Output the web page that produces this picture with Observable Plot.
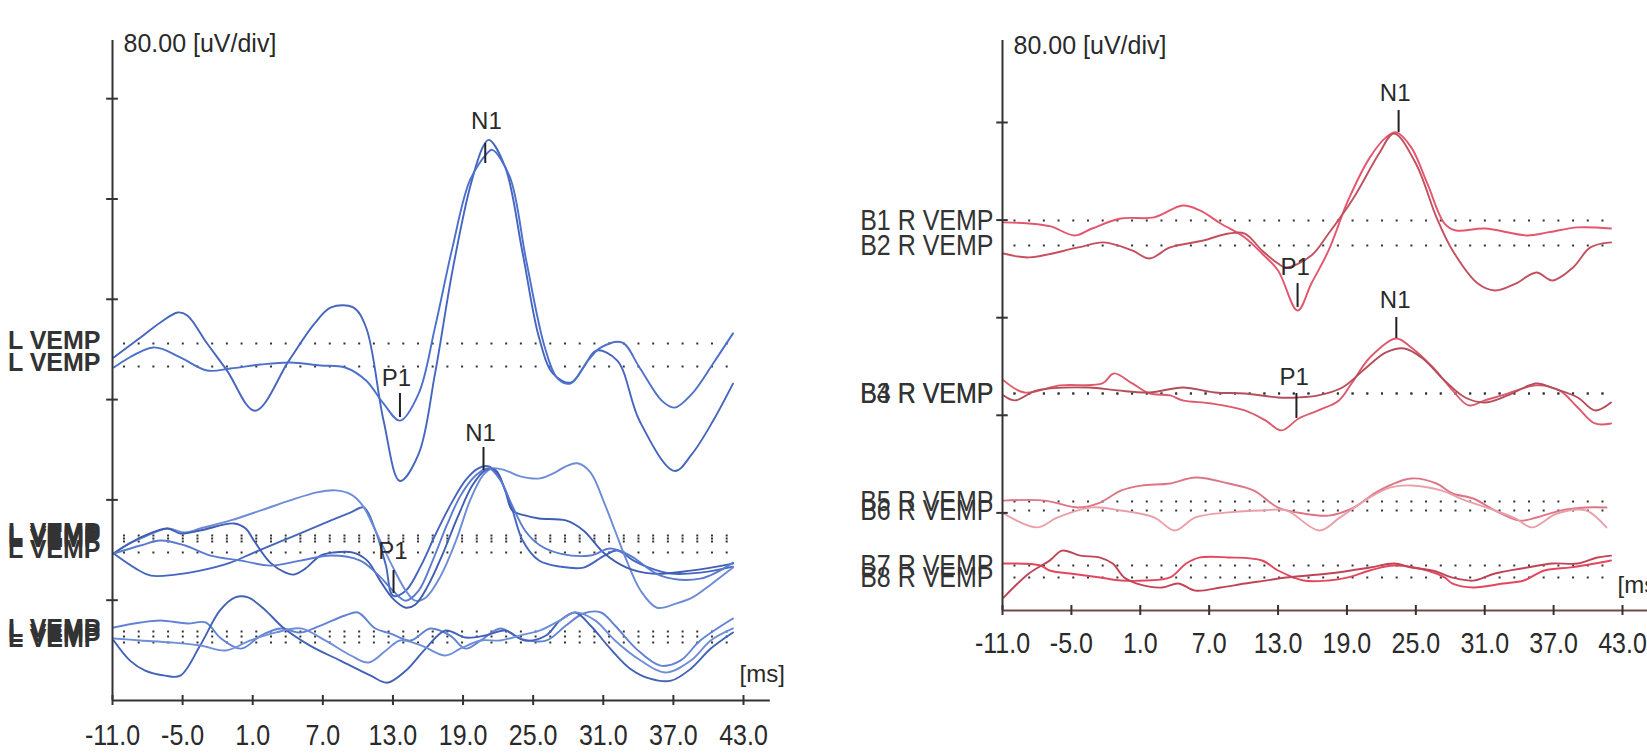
<!DOCTYPE html>
<html><head><meta charset="utf-8">
<script src="https://cdn.jsdelivr.net/npm/d3@7"></script>
<script src="https://cdn.jsdelivr.net/npm/@observablehq/plot@0.6"></script>
<style>
html,body{margin:0;background:#fff;}
#wrap{position:relative;width:1647px;height:753px;overflow:hidden;background:#fff;}
#wrap svg{position:absolute;top:0;max-width:none!important;}
</style></head><body><div id="wrap"></div>
<script>
// ---------- shared axis data ----------
const xTicks = [-11, -5, 1, 7, 13, 19, 25, 31, 37, 43];
const unitText = "80.00 [uV/div]";
const msText = "[ms]";
const yTicksLeft = [80, 160, 240, 320, 400, 480];   // µV, 80 µV/div
const yTicksRight = [80, 160, 240, 320, 400];

// ---------- LEFT panel traces: [ms, µV relative to baseline] ----------
const L1a = [[-10.9,-11.2],[-8.6,4.8],[-6.9,16.8],[-5.4,24.8],[-4.6,22.4],[-2.9,0],[-1.2,-21.6],[1.2,-53.6],[4.1,-13.6],[6.3,16],[7.7,28.8],[9.6,28.8],[10.7,12.8],[12.2,-61.6],[13.6,-109.6],[15.2,-88],[16.6,-24],[18.1,58.4],[19.6,124.8],[20.7,156.8],[21.2,162.4],[22.6,140.8],[24.1,72],[25.5,4.8],[26.7,-24],[28.2,-31.2],[29.3,-19.2],[30.4,-5.6],[32.2,-13.6],[34.1,-61.6],[37.1,-101.6],[38.6,-88],[40.4,-61.6],[42.1,-32]];
const L1b = [[-10.9,-0.8],[-7.5,15.2],[-5.2,7.2],[-2.9,-3.2],[-0.9,-1.6],[1.7,1.6],[4.2,3.2],[6.8,0.8],[8.9,-0.8],[10.7,-11.2],[12.2,-29.6],[13.6,-43.2],[15.2,-21.6],[16.6,31.2],[18.1,95.2],[19.6,148.8],[21.1,170.4],[21.5,172.8],[23.0,151.2],[24.4,84.8],[26.0,15.2],[27.1,-9.6],[28.2,-13.6],[29.7,4.8],[30.8,15.2],[32.6,19.2],[34.1,-0.8],[36.0,-27.2],[37.1,-32.8],[38.6,-21.6],[40.4,2.4],[42.1,26.4]];
const L2a = [[-10.9,-14.4],[-9.0,-26.4],[-7.7,-32],[-5.6,-31.2],[-3.5,-28],[-0.9,-21.6],[1.1,-13.6],[4.2,-1.6],[7.7,12],[9.4,18.4],[10.5,22.4],[11.5,4],[12.4,-24],[13.0,-48],[14.1,-44],[15.4,-24],[16.6,0],[17.9,24],[19.2,44],[20.3,53.6],[21.2,55.2],[22.0,48],[23.1,24],[24.1,-4],[25.5,-20],[27.3,-24.8],[29.3,-25.6],[31.1,-16],[32.2,-12],[33.6,-20],[34.9,-25.6],[36.8,-30.4],[39.3,-29.6],[42.1,-24.8]];
const L2b = [[-10.9,-12],[-9.9,-5.6],[-8.2,1.6],[-6.3,8],[-4.8,4.8],[-3.5,8],[-0.9,14.4],[1.7,22.4],[4.2,30.4],[6.5,36.8],[8.1,38.4],[9.4,35.2],[10.4,26.4],[11.5,6.4],[12.8,-19.2],[14.1,-41.6],[14.9,-49.6],[15.8,-47.2],[17.1,-29.6],[18.4,-1.6],[19.6,30.4],[20.7,50.4],[21.5,56],[22.6,54.4],[23.9,49.6],[25.6,48],[26.9,52.8],[27.8,57.6],[28.8,60],[29.9,52.8],[31.1,28],[32.0,6.4],[33.0,-17.6],[34.2,-41.6],[35.6,-55.2],[37.2,-52],[38.6,-47.2],[40.3,-36],[42.1,-23.2]];
const L2c = [[-10.9,-9.6],[-8.6,3.2],[-6.3,10.4],[-5.2,6.4],[-3.5,8.8],[-0.6,14.4],[0.4,10.4],[1.1,0.8],[2.5,-16.8],[3.8,-24.8],[4.5,-26.4],[5.5,-21.6],[6.8,-11.2],[7.9,-8.8],[9.6,-8.8],[10.8,-15.2],[11.9,-31.2],[13.0,-45.6],[14.1,-52.8],[14.9,-50.4],[16.0,-35.2],[17.2,-11.2],[18.6,20.8],[19.8,44.8],[20.9,56.8],[21.8,56.8],[22.6,40.8],[23.2,24.8],[24.3,20.8],[25.5,18.4],[27.8,16.8],[29.3,8.8],[31.1,-9.6],[33.0,-20.8],[35.2,-25.6],[38.5,-23.2],[42.1,-17.6]];
const L2d = [[-10.9,-0.8],[-8.6,5.6],[-6.9,9.6],[-4.8,5.6],[-2.6,-2.4],[0.0,-6.4],[2.5,-10.4],[5.1,-6.4],[7.7,-2.4],[10.2,-6.4],[11.8,-18.4],[13.0,-30.4],[14.1,-38.4],[15.2,-30.4],[16.4,-6.4],[17.6,21.6],[18.8,45.6],[20.1,61.6],[21.2,67.2],[22.2,57.6],[23.2,37.6],[24.3,17.6],[25.6,5.6],[27.3,-0.8],[29.9,-2.4],[31.6,3.2],[33.3,-2.4],[35.9,-18.4],[39.3,-20.8],[42.1,-8]];
const L3a = [[-10.9,3.2],[-8.6,7.2],[-6.9,8.8],[-4.6,6.4],[-3.0,7.2],[-1.8,-4.8],[0.0,-13.6],[1.7,-3.2],[3.4,2.4],[5.1,-0.8],[6.8,4.8],[8.9,12.8],[10.0,15.2],[11.5,2.4],[12.8,-1.6],[14.5,-7.2],[16.2,2.4],[17.9,-3.2],[19.2,-13.6],[20.5,-7.2],[22.2,2.4],[23.9,-5.6],[26.1,-7.2],[27.8,4.8],[29.3,14.4],[30.8,15.2],[32.0,4.8],[33.8,-13.6],[35.9,-27.2],[37.6,-23.2],[39.3,-7.2],[42.1,10.4]];
const L3b = [[-10.9,-3.2],[-9.5,-19.2],[-8.2,-27.2],[-6.5,-31.2],[-5.2,-31.2],[-3.5,-7.2],[-1.8,20.8],[-0.5,31.2],[0.6,31.2],[2.1,20.8],[3.6,7.2],[5.9,-7.2],[8.5,-19.2],[11.1,-31.2],[12.5,-36.8],[14.1,-27.2],[15.8,-9.6],[17.5,4.8],[19.2,-0.8],[20.9,0.8],[22.6,4.8],[24.3,-3.2],[26.1,0.8],[27.3,12.8],[28.6,19.2],[29.9,8.8],[31.6,-9.6],[33.3,-25.6],[35.0,-33.6],[36.8,-35.2],[38.5,-25.6],[40.2,-9.6],[42.1,3.2]];
const L3c = [[-10.9,3.2],[-8.6,1.6],[-6.0,0],[-3.5,-2.4],[-1.3,-6.4],[0.8,1.6],[3.0,8],[5.1,11.2],[7.2,1.6],[9.4,-10.4],[10.9,-16],[12.4,-6.4],[13.6,1.6],[15.4,-2.4],[17.5,-10.4],[18.8,-4.8],[20.5,1.6],[22.2,1.6],[23.9,5.6],[25.6,9.6],[27.3,17.6],[28.6,24],[30.3,17.6],[32.0,1.6],[34.2,-14.4],[36.3,-24],[38.5,-14.4],[40.2,1.6],[42.1,11.2]];

// ---------- RIGHT panel traces ----------
const B1 = [[-10.9,-1.6],[-8.7,-2.5],[-6.8,-4.9],[-4.7,-12.3],[-3.2,-6.6],[-0.7,1.6],[2.2,2.5],[4.7,12.3],[6.2,8.2],[8.0,-2.5],[10.1,-13.9],[11.6,-27.1],[13.0,-41],[14.7,-73.8],[15.9,-51.7],[17.4,-24.6],[19.1,16.4],[21.0,51.7],[22.4,68.1],[23.3,72.2],[24.6,59.9],[26.0,30.3],[27.5,-2.5],[28.5,-8.2],[31.0,-6.6],[34.7,-12.3],[36.5,-9.8],[39.1,-5.7],[42.0,-6.6]];
const B2 = [[-10.9,-6.6],[-8.7,-9.8],[-4.4,-1.6],[-2.2,2.5],[0.3,-4.1],[1.8,-10.7],[3.6,-1.6],[6.5,4.1],[8.7,9.8],[10.1,9.8],[11.6,-4.1],[13.0,-14.8],[13.7,-18],[15.9,-8.2],[17.4,9.8],[19.6,39.4],[21.8,75.4],[23.1,91.8],[25.0,67.2],[26.8,23],[28.2,-4.1],[30.4,-31.2],[31.9,-36.9],[33.7,-31.2],[35.5,-22.1],[36.9,-28.7],[38.7,-18],[40.2,-1.6],[42.0,2.5]];
const B3 = [[-10.9,10.7],[-9.1,0.8],[-6.0,6.6],[-2.3,8.2],[-1.3,16.4],[0.3,8.2],[1.8,0],[3.6,-1.6],[4.7,-5.7],[7.2,-8.2],[10.1,-13.9],[11.9,-22.1],[13.3,-30.3],[14.8,-20.5],[16.5,-13.9],[18.3,-5.7],[19.4,8.2],[21.0,29.5],[23.3,45.1],[24.6,37.7],[26.5,21.3],[28.2,2.5],[29.6,-9.8],[31.0,-5.7],[32.5,-1.6],[35.5,6.6],[37.5,2.5],[39.1,-11.5],[40.6,-24.6],[42.0,-24.6]];
const B4 = [[-10.9,-1.6],[-9.9,-5.7],[-8.0,2.5],[-3.5,4.9],[-1.0,2.5],[1.8,0.8],[4.7,4.9],[7.5,0.8],[10.1,0],[13.0,-3.3],[14.7,-3.3],[16.5,-1.6],[18.6,4.9],[20.6,20.5],[22.4,33.6],[24.0,36.9],[25.6,28.7],[27.5,10.7],[29.3,-3.3],[31.0,-7.4],[33.0,-1.6],[35.5,8.2],[37.0,4.1],[39.1,-3.3],[40.6,-13.9],[42.0,-7.4]];
const B5 = [[-10.9,0.8],[-7.3,0.8],[-4.4,-4.9],[-2.5,-0.8],[-0.7,9.0],[1.1,13.1],[3.6,14.8],[5.8,19.7],[8.7,14.8],[10.9,9.0],[13.0,-4.9],[15.2,-9.8],[17.4,-11.5],[19.6,-4.9],[21.8,9.0],[24.6,18.9],[26.8,14.8],[28.2,6.6],[30.0,2.5],[31.9,-7.4],[34.0,-15.6],[35.5,-13.1],[37.6,-7.4],[39.8,-4.9],[41.6,-4.9]];
const B6 = [[-10.9,-2.5],[-8.0,-13.9],[-6.2,-5.7],[-3.2,2.5],[-0.7,0],[2.2,-5.7],[4.0,-16.4],[5.8,-5.7],[8.7,-1.6],[11.6,0],[13.7,0],[16.6,-16.4],[18.4,-5.7],[21.0,10.7],[22.8,18.9],[24.6,20.5],[27.2,16.4],[29.3,8.2],[31.9,0],[33.7,-6.6],[35.1,-13.9],[37.3,-2.5],[39.8,0],[41.6,-13.9]];
const B7 = [[-10.9,1.6],[-7.7,0],[-6.9,-4.1],[-5.1,-6.6],[-2.5,-9.8],[-0.7,-12.3],[1.5,-12.3],[3.6,-9.8],[5.0,1.6],[6.2,6.6],[8.7,6.6],[11.6,4.1],[13.0,-4.1],[15.2,-12.3],[17.4,-12.3],[19.1,-9.8],[21.0,-4.1],[23.1,0],[26.0,-4.1],[27.5,-9.8],[28.2,-14.8],[30.0,-18],[32.6,-14.8],[34.4,-12.3],[36.2,-4.1],[38.5,-1.6],[40.6,1.6],[42.0,4.1]];
const B8 = [[-10.9,-16.4],[-8.7,3.3],[-6.9,13.9],[-5.8,22.1],[-4.2,18],[-2.5,16.4],[-1.4,11.5],[-0.4,0],[0.7,-4.9],[2.9,-8.2],[4.3,-4.9],[5.8,-10.7],[8.0,-8.2],[10.1,-4.9],[11.9,-2.5],[13.7,0],[17.4,3.3],[21.0,8.2],[23.1,11.5],[24.6,8.2],[26.5,5.7],[28.2,0],[30.0,-2.5],[31.9,3.3],[34.7,8.2],[36.9,11.5],[39.1,11.5],[40.8,16.4],[42.0,18]];

// trace baselines (µV above the time axis), names and colours
const leftTraces = [
  {id:"L1a", name:"L VEMP", base:284.7, color:"#4565c0", pts:L1a},
  {id:"L1b", name:"L VEMP", base:266.4, color:"#4c70cc", pts:L1b},
  {id:"L2a", name:"L VEMP", base:131.6, color:"#4566bf", pts:L2a},
  {id:"L2b", name:"L VEMP", base:129.2, color:"#6d8bd6", pts:L2b},
  {id:"L2c", name:"L VEMP", base:126.8, color:"#3f5eb3", pts:L2c},
  {id:"L2d", name:"L VEMP", base:118.0, color:"#5a7bd0", pts:L2d},
  {id:"L3a", name:"L VEMP", base:55.0, color:"#6282d4", pts:L3a},
  {id:"L3b", name:"L VEMP", base:51.0, color:"#4262b8", pts:L3b},
  {id:"L3c", name:"L VEMP", base:46.3, color:"#6f8ed8", pts:L3c}
];
const rightTraces = [
  {id:"B1", name:"B1 R VEMP", base:319.7, color:"#e4566e", pts:B1},
  {id:"B2", name:"B2 R VEMP", base:299.2, color:"#c4505f", pts:B2},
  {id:"B3", name:"B3 R VEMP", base:177.9, color:"#dc5a6c", pts:B3},
  {id:"B4", name:"B4 R VEMP", base:177.9, color:"#b34e5a", pts:B4},
  {id:"B5", name:"B5 R VEMP", base:89.3, color:"#dd7585", pts:B5},
  {id:"B6", name:"B6 R VEMP", base:82.0, color:"#e9a0ab", pts:B6},
  {id:"B7", name:"B7 R VEMP", base:36.9, color:"#e2475e", pts:B7},
  {id:"B8", name:"B8 R VEMP", base:27.0, color:"#c04456", pts:B8}
];

// peak markers: label position (t, v) and tick (tt, v1..v2), µV on panel scale
const leftPeaks = [
  {name:"N1", t:21.0, v:461.8, tt:20.9, v1:444.3, v2:428.3},
  {name:"P1", t:13.3, v:256.8, tt:13.6, v1:244.9, v2:225.7},
  {name:"N1", t:20.5, v:213.0, tt:20.75, v1:201.8, v2:183.4},
  {name:"P1", t:13.0, v:118.8, tt:13.05, v1:103.7, v2:85.3}
];
const rightPeaks = [
  {name:"N1", t:23.2, v:423.8, tt:23.5, v1:409.8, v2:391.8},
  {name:"P1", t:14.5, v:281.2, tt:14.7, v1:268.0, v2:248.4},
  {name:"N1", t:23.2, v:254.1, tt:23.3, v1:240.2, v2:223.0},
  {name:"P1", t:14.4, v:191.0, tt:14.6, v1:177.9, v2:157.4}
];

const FONT = "'Liberation Sans', Arial, sans-serif";
const INK = "#2a2a2a";

function panel(o) {
  const rows = o.traces.flatMap(tr => tr.pts.map(([t, a]) => ({id: tr.id, t, v: tr.base + a, color: tr.color})));
  const svg = Plot.plot({
    width: o.width, height: 753,
    marginLeft: o.mL, marginRight: o.mR, marginTop: 40, marginBottom: o.mB,
    x: {domain: [-11, 43], axis: null},
    y: {domain: [0, o.yTop], axis: null},
    color: {type: "identity"},
    style: {fontFamily: FONT, background: "transparent", overflow: "visible"},
    marks: [
      Plot.ruleY(o.traces, {y: "base", x1: o.dot[0], x2: o.dot[1], stroke: "#333", strokeWidth: 2, strokeDasharray: "2 12.7"}),
      Plot.line(rows, {x: "t", y: "v", z: "id", stroke: "color", strokeWidth: 1.9, curve: "catmull-rom"}),
      Plot.ruleX([-11], {y1: 0, y2: o.yTop, stroke: "#333", strokeWidth: 2}),
      Plot.ruleY([0], {x1: -11, x2: 45.3, stroke: o.xAxisColor, strokeWidth: 2}),
      Plot.ruleY(o.yTicks, {x1: -11.5, x2: -10.5, stroke: "#333", strokeWidth: 2}),
      Plot.ruleX(xTicks, {y1: -o.tk, y2: o.tk, stroke: "#333", strokeWidth: 2}),
      Plot.text(xTicks, {x: d => d, y: 0, text: d => d.toFixed(1), dy: o.labDy, fontSize: 25, fill: INK}),
      Plot.text([unitText], {x: o.unit[0], y: o.unit[1], text: d => d, textAnchor: "start", fontSize: 25, fill: INK}),
      Plot.text([msText], {x: o.ms[0], y: o.ms[1], text: d => d, textAnchor: o.msAnchor, fontSize: 24, fill: INK}),
      Plot.text(o.traces, {x: -11, y: "base", text: "name", textAnchor: "end", dx: o.nameDx, dy: o.nameDy, fontSize: 25, fontWeight: o.nameWeight, fill: "#333"}),
      Plot.ruleX(o.peaks, {x: "tt", y1: "v1", y2: "v2", stroke: "#222", strokeWidth: 2}),
      Plot.text(o.peaks, {x: "t", y: "v", text: "name", fontSize: 24, fill: INK})
    ]
  });
  svg.style.left = o.left + "px";
  // the scanned printout uses a taller glyph shape for axis numbers and R-channel names
  svg.querySelectorAll("text").forEach(el => {
    const s = el.textContent;
    if (!(/^-?\d+\.0$/.test(s) || /R VEMP/.test(s))) return;
    const tr = el.getAttribute("transform");
    if (tr) el.setAttribute("transform", tr + " scale(1,1.2)");
    else {
      const x = +el.getAttribute("x") || 0, y = +el.getAttribute("y") || 0;
      el.setAttribute("transform", `translate(${x},${y}) scale(1,1.2) translate(${-x},${-y})`);
    }
  });
  return svg;
}

const wrap = document.getElementById("wrap");
wrap.appendChild(panel({
  left: 0, width: 800, mL: 112, mR: 57, mB: 53, yTop: 526.4,
  traces: leftTraces, peaks: leftPeaks, yTicks: yTicksLeft,
  dot: [-10.06, 41.7], tk: 4, labDy: 35, xAxisColor: "#333",
  unit: [-10.06, 524], ms: [44.6, 20.7], msAnchor: "middle",
  nameDx: -12, nameDy: -3, nameWeight: "bold"
}));
wrap.appendChild(panel({
  left: 800, width: 847, mL: 202, mR: 25, mB: 143, yTop: 467.2,
  traces: rightTraces, peaks: rightPeaks, yTicks: yTicksRight,
  dot: [-10.0, 41.4], tk: 4.1, labDy: 33, xAxisColor: "#6e4d47",
  unit: [-10.04, 463], ms: [42.57, 20.5], msAnchor: "start",
  nameDx: -9, nameDy: 0, nameWeight: "normal"
}));
</script></body></html>
